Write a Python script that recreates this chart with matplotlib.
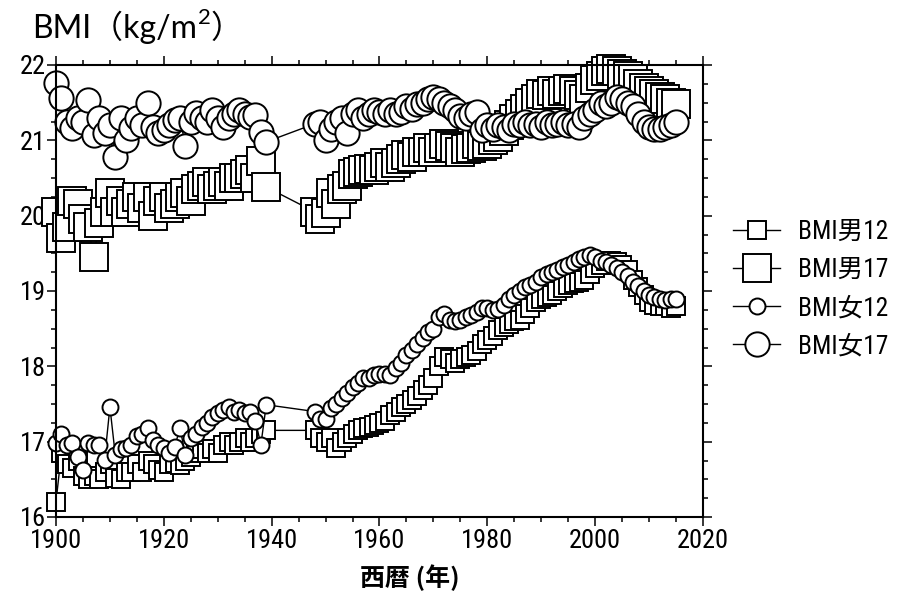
import os
import matplotlib
matplotlib.use("Agg")
import matplotlib.pyplot as plt
from matplotlib import font_manager
from matplotlib.font_manager import FontProperties
from matplotlib.ticker import MultipleLocator

# survey years: 1900-1939, then 1948-2015 (no data during the war years)
years = list(range(1900, 1940)) + list(range(1948, 2016))

bmi_m12 = [
    16.2, 16.85, 16.7, 16.65, 16.75, 16.55, 16.5, 16.55, 16.5, 16.6,
    16.7, 16.52, 16.5, 16.6, 16.6, 16.7, 16.6, 16.75, 16.7, 16.62,
    16.6, 16.7, 16.72, 16.69, 16.75, 16.8, 16.85, 16.9, 16.85, 16.9,
    16.85, 16.95, 17.0, 16.95, 17.0, 17.05, 17.0, 17.05, 17.1, 17.15,
    17.15, 17.05, 17.0, 17.05, 16.92, 17.0, 17.05, 17.1, 17.15, 17.18,
    17.2, 17.22, 17.25, 17.28, 17.35, 17.4, 17.46, 17.5, 17.55, 17.6,
    17.68, 17.75, 17.85, 18.0, 18.12, 18.1, 18.05, 18.1, 18.12, 18.15,
    18.2, 18.3, 18.35, 18.4, 18.48, 18.52, 18.56, 18.6, 18.62, 18.7,
    18.78, 18.85, 18.9, 18.92, 18.95, 19.0, 19.04, 19.08, 19.1, 19.12,
    19.15, 19.22, 19.3, 19.35, 19.4, 19.4, 19.38, 19.35, 19.28, 19.15,
    19.05, 18.95, 18.85, 18.82, 18.8, 18.8, 18.78, 18.8,
]

bmi_m17 = [
    20.05, 19.7, 19.85, 20.2, 20.15, 19.95, 19.85, 19.45, 19.9, 20.05,
    20.3, 20.05, 20.2, 20.05, 20.15, 20.25, 20.1, 20.25, 20.0, 20.2,
    20.25, 20.1, 20.15, 20.25, 20.3, 20.2, 20.35, 20.4, 20.45, 20.35,
    20.4, 20.45, 20.4, 20.5, 20.5, 20.55, 20.6, 20.5, 20.72, 20.38,
    20.05, 19.95, 20.03, 20.3, 20.15, 20.35, 20.4, 20.55, 20.58, 20.6,
    20.62, 20.6, 20.65, 20.7, 20.65, 20.7, 20.75, 20.8, 20.78, 20.85,
    20.85, 20.9, 20.85, 20.9, 20.95, 20.92, 20.9, 20.85, 20.88, 20.9,
    20.95, 20.92, 20.95, 21.0, 21.05, 21.12, 21.2, 21.28, 21.35, 21.42,
    21.5, 21.55, 21.62, 21.6, 21.65, 21.62, 21.65, 21.68, 21.65, 21.6,
    21.55, 21.7, 21.8, 21.85, 21.92, 21.95, 21.92, 21.88, 21.85, 21.82,
    21.75, 21.7, 21.65, 21.62, 21.58, 21.55, 21.5, 21.48,
]

bmi_f12 = [
    16.98, 17.1, 16.95, 16.98, 16.8, 16.62, 16.98, 16.95, 16.96, 16.76,
    17.46, 16.82, 16.9, 16.92, 16.95, 17.07, 17.1, 17.18, 17.02, 16.95,
    16.91, 16.85, 16.93, 17.18, 16.82, 17.05, 17.1, 17.2, 17.25, 17.33,
    17.38, 17.42, 17.46, 17.4, 17.42, 17.38, 17.4, 17.27, 16.96, 17.49,
    17.4, 17.3, 17.3, 17.45, 17.5, 17.58, 17.65, 17.72, 17.78, 17.84,
    17.85, 17.88, 17.9, 17.9, 17.88, 17.98, 18.05, 18.15, 18.22, 18.3,
    18.38, 18.45, 18.5, 18.65, 18.7, 18.62, 18.6, 18.62, 18.65, 18.68,
    18.72, 18.77, 18.78, 18.75, 18.76, 18.82, 18.9, 18.95, 19.0, 19.05,
    19.08, 19.12, 19.18, 19.22, 19.25, 19.28, 19.32, 19.35, 19.38, 19.43,
    19.45, 19.48, 19.45, 19.4, 19.38, 19.35, 19.3, 19.25, 19.2, 19.12,
    19.06, 19.0, 18.95, 18.92, 18.9, 18.88, 18.9, 18.9,
]

bmi_f17 = [
    21.76, 21.56, 21.25, 21.16, 21.3, 21.25, 21.54, 21.07, 21.3, 21.1,
    21.2, 20.78, 21.29, 21.0, 21.16, 21.3, 21.2, 21.49, 21.18, 21.1,
    21.14, 21.2, 21.27, 21.3, 20.92, 21.25, 21.36, 21.3, 21.25, 21.4,
    21.3, 21.18, 21.3, 21.35, 21.4, 21.35, 21.31, 21.34, 21.11, 20.98,
    21.22, 21.25, 21.0, 21.15, 21.25, 21.3, 21.1, 21.35, 21.4, 21.3,
    21.35, 21.4, 21.38, 21.35, 21.4, 21.35, 21.38, 21.45, 21.42, 21.48,
    21.5, 21.55, 21.58, 21.55, 21.5, 21.45, 21.4, 21.32, 21.3, 21.35,
    21.38, 21.14, 21.2, 21.15, 21.2, 21.18, 21.14, 21.22, 21.2, 21.25,
    21.2, 21.22, 21.18, 21.25, 21.2, 21.22, 21.25, 21.2, 21.22, 21.18,
    21.3, 21.35, 21.4, 21.5, 21.45, 21.5, 21.58, 21.55, 21.5, 21.45,
    21.35, 21.25, 21.18, 21.15, 21.15, 21.18, 21.2, 21.25,
]

labels = ["BMI男12", "BMI男17", "BMI女12", "BMI女17"]

# ── narrow latin font (register under its own name so CJK fallback works) ──
def _find_font(prefixes):
    for pre in prefixes:
        for f in font_manager.fontManager.ttflist:
            if os.path.basename(f.fname).lower().startswith(pre.lower()):
                return f.fname
    return None

narrow_path = _find_font([
    "LiberationSansNarrow-Regular", "NotoSans-Condensed.", "NotoSansCondensed-Regular",
    "NotoSans-Condensed-Regular", "RobotoCondensed-Regular", "OpenSans-CondensedRegular",
    "DejaVuSansCondensed.",
])
if narrow_path:
    font_manager.fontManager.ttflist.append(font_manager.FontEntry(
        fname=narrow_path, name="NarrowLatin", style="normal", variant="normal",
        weight=400, stretch="normal", size="scalable"))
    narrow = "NarrowLatin"
else:
    narrow = "DejaVu Sans"
CJK = "Noto Sans CJK JP"
plt.rcParams["font.family"] = [narrow, CJK]

fig = plt.figure(figsize=(8.97, 5.99), dpi=100)
fig.patch.set_facecolor("white")
renderer = fig.canvas.get_renderer()


def _width(txt, size, family, **kw):
    t = fig.text(0, 0, txt, fontsize=size, family=family, **kw)
    w = t.get_window_extent(renderer).width
    t.remove()
    return w


# size the tick labels so "1900" is ~52 px wide, legend so "BMI男12" is ~90 px
tick_size = min(22.0, 20 * 52 / _width("1900", 20, [narrow]))
leg_size = min(19.0, 17 * 90 / _width("BMI男12", 17, [narrow, CJK]))

ax = fig.add_axes([56 / 897, 1 - 517 / 599, (703 - 56) / 897, (517 - 65) / 599])

styles = [
    (bmi_m12, "s", 12.5),
    (bmi_m17, "s", 19.5),
    (bmi_f12, "o", 11.5),
    (bmi_f17, "o", 17.5),
]
for (vals, mk, ms), lbl in zip(styles, labels):
    ax.plot(years, vals, color="black", linewidth=1.0, marker=mk,
            markersize=ms, markerfacecolor="white", markeredgecolor="black",
            markeredgewidth=1.4, label=lbl, clip_on=False)

ax.set_xlim(1900, 2020)
ax.set_ylim(16, 22)
ax.xaxis.set_major_locator(MultipleLocator(20))
ax.xaxis.set_minor_locator(MultipleLocator(5))
ax.yaxis.set_major_locator(MultipleLocator(1))
ax.yaxis.set_minor_locator(MultipleLocator(0.25))
ax.tick_params(which="both", direction="out", top=True, right=True,
               width=1.1, labelsize=tick_size, colors="black")
ax.tick_params(which="major", length=6.5)
ax.tick_params(which="minor", length=3.6)
ax.tick_params(axis="x", pad=2)
ax.tick_params(axis="y", pad=1)
for sp in ax.spines.values():
    sp.set_linewidth(1.5)

leg_prop = FontProperties(family=[narrow, CJK], size=leg_size)
ax.legend(loc="upper left", bbox_to_anchor=(733 / 897, 1 - 220 / 599),
          bbox_transform=fig.transFigure, frameon=False, prop=leg_prop,
          borderpad=0, borderaxespad=0, handlelength=47 / (leg_size * 100 / 72),
          handletextpad=0.7, labelspacing=0.55, numpoints=1)

# title "BMI（kg/m²）" built from pieces so the superscript is a real small raised 2
title_fam = ["Lato", CJK]
tx, ty = 32, 38  # px from left / top (baseline)
t_main = "BMI（kg/m"
fig.text(tx / 897, 1 - ty / 599, t_main, fontsize=23, family=title_fam,
         va="baseline", ha="left")
x2 = tx + _width(t_main, 23, title_fam)
fig.text((x2 + 1) / 897, 1 - (ty - 14) / 599, "2", fontsize=16, family=title_fam,
         va="baseline", ha="left")
x3 = x2 + 1 + _width("2", 16, title_fam)
fig.text(x3 / 897, 1 - ty / 599, "）", fontsize=23, family=title_fam,
         va="baseline", ha="left")

fig.text(410 / 897, 1 - 578 / 599, "西暦 (年)", fontsize=18, fontweight="bold",
         family=[CJK], ha="center", va="center")

fig.savefig("out.png", dpi=100, facecolor=fig.get_facecolor())
plt.close(fig)
